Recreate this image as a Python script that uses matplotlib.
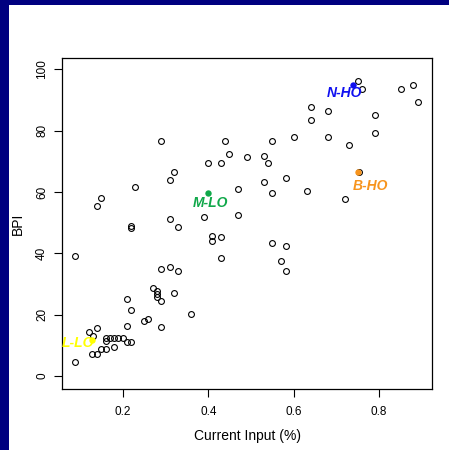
import matplotlib
matplotlib.use("Agg")
import matplotlib.pyplot as plt
from matplotlib.patches import Rectangle

plt.rcParams["font.family"] = ["Liberation Sans", "DejaVu Sans"]

# --------- data ---------------------------------
current_input = [
    0.087, 0.087, 0.139, 0.148, 0.229, 0.289, 0.320, 0.309, 0.400, 0.430,
    0.439, 0.449, 0.490, 0.470, 0.390, 0.470, 0.309, 0.329, 0.219, 0.219,
    0.409, 0.409, 0.430, 0.751, 0.761, 0.851, 0.881, 0.892, 0.640, 0.681,
    0.640, 0.791, 0.791, 0.681, 0.600, 0.549, 0.731, 0.530, 0.540, 0.530,
    0.581, 0.550, 0.631, 0.753, 0.721, 0.550, 0.581, 0.570, 0.581, 0.430,
    0.290, 0.309, 0.329, 0.359, 0.270, 0.279, 0.279, 0.279, 0.289, 0.320,
    0.209, 0.219, 0.209, 0.249, 0.259, 0.289, 0.119, 0.139, 0.129, 0.159,
    0.159, 0.169, 0.179, 0.189, 0.199, 0.209, 0.219, 0.179, 0.149, 0.159,
    0.128, 0.139,
]
bpi = [
    39.2, 4.6, 55.5, 58.2, 61.8, 76.6, 66.7, 63.9, 69.5, 69.5,
    76.6, 72.3, 71.6, 61.0, 52.0, 52.5, 51.2, 48.5, 49.0, 48.2,
    45.8, 44.1, 45.5, 96.3, 93.6, 93.5, 94.9, 89.3, 87.9, 86.5,
    83.6, 85.0, 79.4, 78.1, 78.0, 76.6, 75.3, 71.7, 69.5, 63.3,
    64.5, 59.6, 60.4, 66.6, 57.7, 43.5, 42.4, 37.5, 34.2, 38.4,
    35.0, 35.6, 34.2, 20.3, 28.8, 27.8, 26.8, 25.9, 24.4, 27.2,
    25.1, 21.4, 16.4, 17.9, 18.7, 16.1, 14.4, 15.8, 13.1, 12.3,
    11.4, 12.3, 12.4, 12.4, 12.3, 11.1, 11.1, 9.6, 8.9, 8.9,
    7.3, 7.3,
]

# highlighted groups
group_names = ["N-HO", "M-LO", "B-HO", "L-LO"]
group_x = [0.739, 0.400, 0.751, 0.128]
group_y = [95.0, 59.8, 66.7, 11.7]
group_colors = ["#1010f0", "#10a84a", "#f7941d", "#ffff00"]
label_x = [0.720, 0.404, 0.779, 0.094]
label_y = [92.3, 56.4, 62.0, 10.8]

x_ticks = [0.2, 0.4, 0.6, 0.8]
y_ticks = [0, 20, 40, 60, 80, 100]

# --------- figure ----------
fig = plt.figure(figsize=(4.49, 4.50), dpi=100)
fig.patch.set_facecolor("white")
# navy frame on left and top
fig.add_artist(Rectangle((0, 0), 9 / 449, 1, transform=fig.transFigure,
                         facecolor="#000080", edgecolor="none"))
fig.add_artist(Rectangle((0, 1 - 5 / 450), 1, 5 / 450, transform=fig.transFigure,
                         facecolor="#000080", edgecolor="none"))

ax = fig.add_axes([62 / 449, (450 - 389) / 450, 370 / 449, 331 / 450])

ax.plot(current_input, bpi, linestyle="none", marker="o", markersize=4.2,
        markerfacecolor="none", markeredgecolor="black", markeredgewidth=0.8)

for name, gx, gy, c, lx, ly in zip(group_names, group_x, group_y, group_colors,
                                   label_x, label_y):
    ax.plot([gx], [gy], linestyle="none", marker="o", markersize=4.6,
            color=c, markeredgewidth=0, zorder=4)
    ax.text(lx, ly, name, color=c, fontsize=10, fontweight="bold",
            fontstyle="italic", ha="center", va="center", zorder=5)

ax.set_xlim(0.0567, 0.9245)
ax.set_ylim(-4.24, 103.75)
ax.set_xticks(x_ticks)
ax.set_xticklabels([f"{t:.1f}" for t in x_ticks])
ax.set_yticks(y_ticks)
ax.set_yticklabels([str(t) for t in y_ticks], rotation=90, va="center")
ax.tick_params(direction="out", length=6, width=0.8, labelsize=8.5)
ax.tick_params(axis="x", pad=6)
ax.tick_params(axis="y", pad=4)

for s in ax.spines.values():
    s.set_linewidth(0.9)

ax.set_xlabel("Current Input (%)", fontsize=10, labelpad=8)
ax.set_ylabel("BPI", fontsize=10, labelpad=8)

fig.savefig("out.png", dpi=100)
